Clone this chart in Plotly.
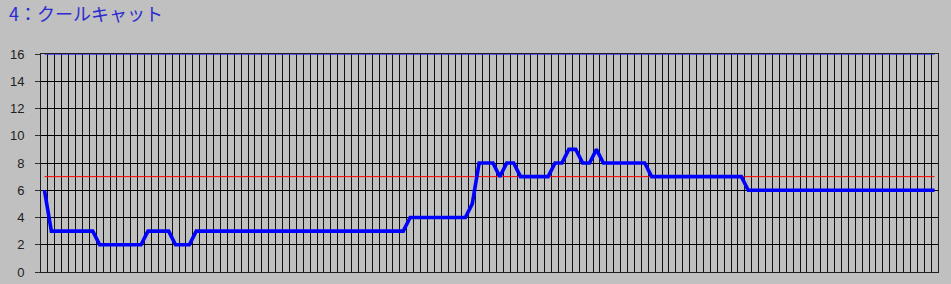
import plotly.graph_objects as go

title_text = "4：クールキャット"

values = [
    6,
    3, 3, 3, 3, 3, 3, 3,
    2, 2, 2, 2, 2, 2, 2,
    3, 3, 3, 3,
    2, 2, 2,
    3, 3, 3, 3, 3, 3, 3, 3, 3, 3, 3, 3, 3, 3, 3, 3, 3, 3, 3, 3, 3, 3, 3, 3, 3, 3, 3, 3, 3, 3, 3,
    4, 4, 4, 4, 4, 4, 4, 4, 4,
    5,
    8, 8, 8,
    7,
    8, 8,
    7, 7, 7, 7, 7,
    8, 8,
    9, 9,
    8, 8,
    9,
    8, 8, 8, 8, 8, 8, 8,
    7, 7, 7, 7, 7, 7, 7, 7, 7, 7, 7, 7, 7, 7,
    6, 6, 6, 6, 6, 6, 6, 6, 6, 6, 6, 6, 6, 6, 6, 6, 6, 6, 6, 6, 6, 6, 6, 6, 6, 6, 6, 6,
]
points = list(range(len(values)))
average_level = 7
max_level = 16
y_ticks = [0, 2, 4, 6, 8, 10, 12, 14, 16]

fig = go.Figure()
fig.add_trace(go.Scatter(x=points, y=[max_level] * len(points), mode="lines",
                         line=dict(color="#3434f0", width=1.6), hoverinfo="skip"))
fig.add_trace(go.Scatter(x=points, y=[average_level] * len(points), mode="lines",
                         line=dict(color="#ff0000", width=1), hoverinfo="skip"))
fig.add_trace(go.Scatter(x=points, y=values, mode="lines",
                         line=dict(color="#0000ff", width=3.6)))

fig.update_layout(
    template="none",
    width=951, height=284,
    margin=dict(l=41, r=13, t=54, b=12, autoexpand=False),
    paper_bgcolor="#c0c0c0",
    plot_bgcolor="#c0c0c0",
    showlegend=False,
)
fig.add_annotation(text=title_text, xref="paper", yref="paper",
                   x=-41 / 897, y=1 + 54 / 218, xanchor="left", yanchor="top",
                   xshift=7, yshift=2, showarrow=False,
                   font=dict(family="Noto Sans CJK JP", size=18, color="#2c2cd0"))

fig.update_xaxes(range=[-0.5, len(values) - 0.5], tick0=0.5, dtick=1,
                 showgrid=True, gridcolor="#101010", gridwidth=1.1,
                 showticklabels=False, ticks="", zeroline=False, automargin=False,
                 showline=True, mirror=True, linecolor="#202020", linewidth=1)
fig.update_yaxes(range=[0, max_level], tickvals=y_ticks,
                 showgrid=True, gridcolor="#000000", gridwidth=1,
                 ticks="outside", ticklen=5, tickcolor="#303030", tickwidth=1,
                 ticklabelstandoff=8, automargin=False,
                 tickfont=dict(family="Liberation Sans", size=13, color="#202020"),
                 zeroline=False,
                 showline=True, mirror=True, linecolor="#202020", linewidth=1)

fig.write_html("out.html")
